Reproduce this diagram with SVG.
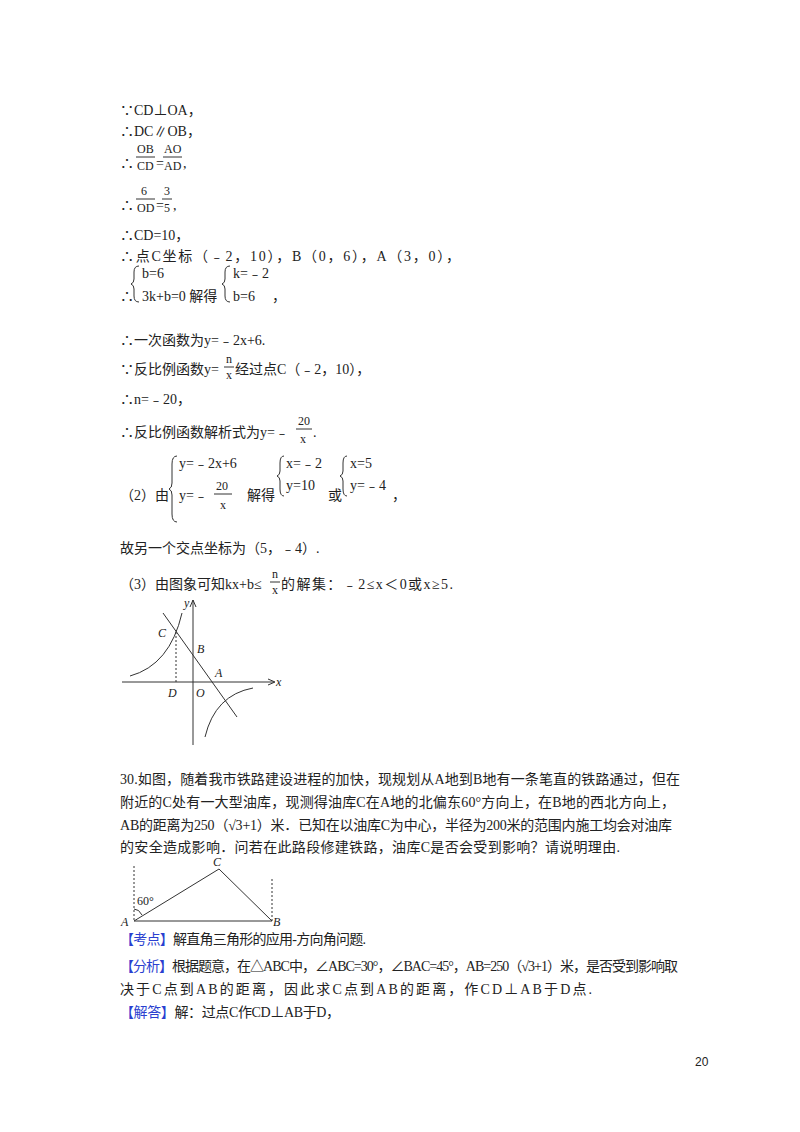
<svg xmlns="http://www.w3.org/2000/svg" width="800" height="1132" viewBox="0 0 800 1132">
<style>
text{font-family:"Liberation Serif","Noto Sans CJK SC",serif;font-size:14px;fill:#222}
.s{font-size:12px}
.i{font-style:italic;font-size:12px}
.b{fill:#2a3fd0}
.l{stroke:#333;stroke-width:1;fill:none}
.d{stroke:#333;stroke-width:1;fill:none;stroke-dasharray:2,2}
</style>
<rect width="800" height="1132" fill="#fff"/>
<g id="part1">
<text x="120" y="115">∵CD⊥OA，</text>
<text x="120" y="136">∴DC∥OB，</text>
<text x="120" y="168">∴</text>
<text x="137" y="153" class="s">OB</text><line x1="136" y1="157" x2="155" y2="157" class="l"/><text x="137" y="170" class="s">CD</text>
<text x="156" y="168">=</text>
<text x="164" y="153" class="s">AO</text><line x1="163" y1="157" x2="182" y2="157" class="l"/><text x="164" y="170" class="s">AD</text><text x="183" y="168">,</text>
<text x="120" y="210">∴</text>
<text x="141" y="195" class="s">6</text><line x1="136" y1="199" x2="155" y2="199" class="l"/><text x="137" y="212" class="s">OD</text>
<text x="156" y="210">=</text>
<text x="164" y="195" class="s">3</text><line x1="162" y1="199" x2="172" y2="199" class="l"/><text x="164" y="212" class="s">5</text><text x="173" y="210">,</text>
<text x="120" y="240">∴CD=10，</text>
<text x="120" y="261" textLength="340">∴点C坐标（﹣2，10），B（0，6），A（3，0），</text>
<text x="120" y="301">∴</text>
<path d="M139,266 q-5,0 -5,6 v7 q0,4 -3,5 q3,1 3,5 v7 q0,6 5,6" class="l"/>
<text x="142" y="278">b=6</text>
<text x="142" y="301">3k+b=0 解得</text>
<path d="M230,266 q-5,0 -5,6 v7 q0,4 -3,5 q3,1 3,5 v7 q0,6 5,6" class="l"/>
<text x="233" y="278">k=﹣2</text>
<text x="233" y="301">b=6</text>
<text x="272" y="301">，</text>
<text x="120" y="345">∴一次函数为y=﹣2x+6.</text>
<text x="120" y="374">∵反比例函数y=</text><text x="226" y="363" class="s">n</text><line x1="224" y1="367" x2="234" y2="367" class="l"/><text x="226" y="379" class="s">x</text><text x="235" y="374">经过点C（﹣2，10），</text>
<text x="120" y="404">∴n=﹣20，</text>
<text x="120" y="437">∴反比例函数解析式为y=﹣</text><text x="298" y="425" class="s">20</text><line x1="296" y1="429" x2="312" y2="429" class="l"/><text x="300" y="443" class="s">x</text><text x="313" y="437">.</text>
<text x="120" y="500">（2）由</text>
<path d="M177,456 q-5,0 -5,8 v19 q0,5 -3,6 q3,1 3,6 v19 q0,8 5,8" class="l"/>
<text x="179" y="468">y=﹣2x+6</text>
<text x="179" y="500">y=﹣</text><text x="216" y="490" class="s">20</text><line x1="214" y1="494" x2="232" y2="494" class="l"/><text x="220" y="509" class="s">x</text>
<text x="247" y="500">解得</text>
<path d="M284,456 q-4,0 -4,7 v8 q0,4 -3,5 q3,1 3,5 v8 q0,7 4,7" class="l"/>
<text x="286" y="468">x=﹣2</text>
<text x="286" y="490">y=10</text>
<text x="328" y="500">或</text>
<path d="M347,456 q-4,0 -4,7 v8 q0,4 -3,5 q3,1 3,5 v8 q0,7 4,7" class="l"/>
<text x="350" y="468">x=5</text>
<text x="350" y="490">y=﹣4</text>
<text x="392" y="500">，</text>
<text x="120" y="553">故另一个交点坐标为（5，﹣4）.</text>
<text x="120" y="589">（3）由图象可知kx+b≤</text><text x="272" y="578" class="s">n</text><line x1="270" y1="582" x2="280" y2="582" class="l"/><text x="272" y="594" class="s">x</text><text x="281" y="589" textLength="172">的解集：﹣2≤x＜0或x≥5.</text>
</g>
<g id="graph">
<line x1="122" y1="682" x2="274" y2="682" class="l"/>
<path d="M268,679 L275,682 L268,685" class="l"/>
<line x1="193" y1="745" x2="193" y2="600" class="l"/>
<path d="M190,607 L193,600 L196,607" class="l"/>
<line x1="163" y1="613" x2="237" y2="717" class="l"/>
<line x1="176" y1="632" x2="176" y2="682" class="d"/>
<path d="M130,676 Q170,665 182,613" class="l"/>
<path d="M205,737 Q215,695 253,688" class="l"/>
<text x="158" y="637" class="i">C</text>
<text x="197" y="653" class="i">B</text>
<text x="215" y="677" class="i">A</text>
<text x="168" y="697" class="i">D</text>
<text x="196" y="697" class="i">O</text>
<text x="276" y="686" class="i">x</text>
<text x="184" y="607" class="i">y</text>
</g>
<g id="part2">
<text x="120" y="784" textLength="560">30.如图，随着我市铁路建设进程的加快，现规划从A地到B地有一条笔直的铁路通过，但在</text>
<text x="120" y="807" textLength="555">附近的C处有一大型油库，现测得油库C在A地的北偏东60°方向上，在B地的西北方向上，</text>
<text x="120" y="830" textLength="552">AB的距离为250（√3+1）米．已知在以油库C为中心，半径为200米的范围内施工均会对油库</text>
<text x="120" y="852" textLength="500">的安全造成影响．问若在此路段修建铁路，油库C是否会受到影响？请说明理由.</text>
</g>
<g id="triangle">
<line x1="134" y1="866" x2="134" y2="921" class="d"/>
<line x1="272" y1="879" x2="272" y2="921" class="d"/>
<line x1="134" y1="921" x2="272" y2="921" class="l"/>
<line x1="134" y1="921" x2="219" y2="869" class="l"/>
<line x1="219" y1="869" x2="272" y2="921" class="l"/>
<path d="M134,909 Q139,909 142,915" class="l"/>
<text x="213" y="866" class="i">C</text>
<text x="121" y="926" class="i">A</text>
<text x="273" y="926" class="i">B</text>
<text x="137" y="905" class="s">60°</text>
</g>
<g id="part3">
<text x="120" y="944" textLength="246"><tspan class="b">【考点】</tspan>解直角三角形的应用-方向角问题.</text>
<text x="120" y="971" textLength="558"><tspan class="b">【分析】</tspan>根据题意，在△ABC中，∠ABC=30°，∠BAC=45°，AB=250（√3+1）米，是否受到影响取</text>
<text x="120" y="994" textLength="472">决于C点到AB的距离，因此求C点到AB的距离，作CD⊥AB于D点.</text>
<text x="120" y="1017" textLength="220"><tspan class="b">【解答】</tspan>解：过点C作CD⊥AB于D，</text>
<text x="695" y="1066" style="font-family:'Liberation Sans',sans-serif;font-size:12px">20</text>
</g>
</svg>
